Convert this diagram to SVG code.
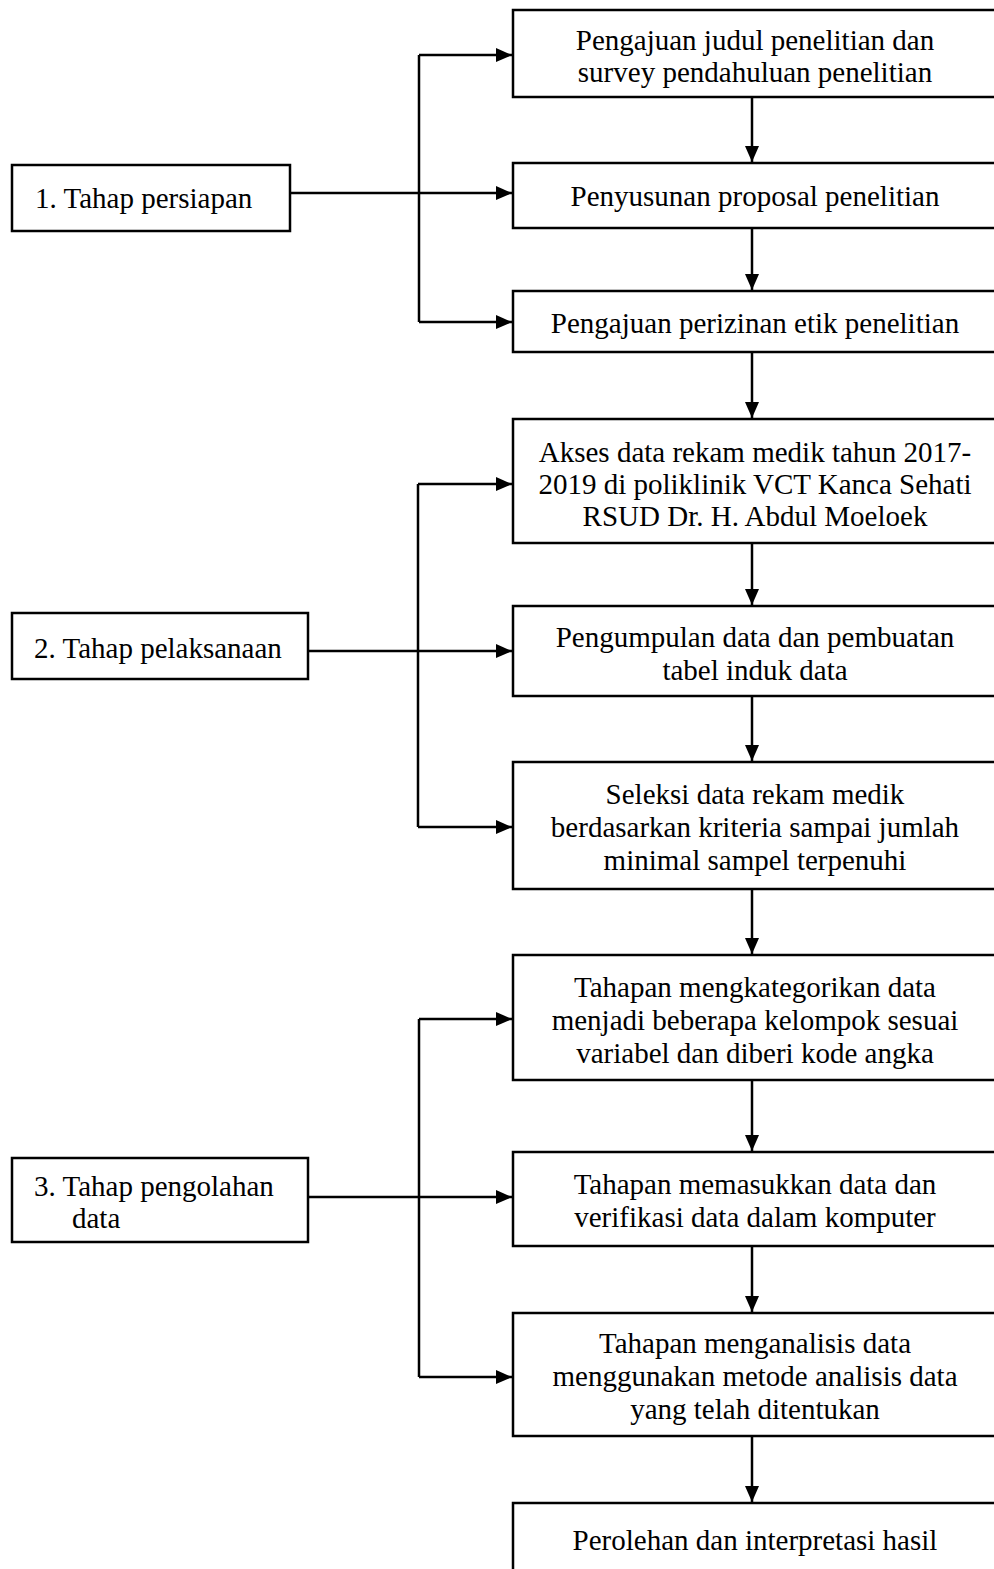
<svg xmlns="http://www.w3.org/2000/svg" width="994" height="1569" viewBox="0 0 994 1569">
<style>
.box{fill:#fff;stroke:#000;stroke-width:2.5}
.t{font-family:"Liberation Serif","Times New Roman",serif;font-size:29px;fill:#000}
.c{text-anchor:middle}
.ln{fill:none;stroke:#000;stroke-width:2.5}
</style>
<defs>
<marker id="ah" markerUnits="userSpaceOnUse" markerWidth="16" markerHeight="14" refX="16" refY="7" orient="auto">
<path d="M0,0 L16,7 L0,14 Z" fill="#000"/>
</marker>
</defs>
<rect width="994" height="1569" fill="#fff"/>
<g id="connectors">
<path class="ln" d="M419,55 V322"/>
<path class="ln" d="M291,193 H512" marker-end="url(#ah)"/>
<path class="ln" d="M419,55 H512" marker-end="url(#ah)"/>
<path class="ln" d="M419,322 H512" marker-end="url(#ah)"/>
<path class="ln" d="M418,484 V827"/>
<path class="ln" d="M308,651 H512" marker-end="url(#ah)"/>
<path class="ln" d="M418,484 H512" marker-end="url(#ah)"/>
<path class="ln" d="M418,827 H512" marker-end="url(#ah)"/>
<path class="ln" d="M419,1019 V1377"/>
<path class="ln" d="M308,1197 H512" marker-end="url(#ah)"/>
<path class="ln" d="M419,1019 H512" marker-end="url(#ah)"/>
<path class="ln" d="M419,1377 H512" marker-end="url(#ah)"/>
<path class="ln" d="M752,97 V162" marker-end="url(#ah)"/>
<path class="ln" d="M752,228 V290" marker-end="url(#ah)"/>
<path class="ln" d="M752,352 V418" marker-end="url(#ah)"/>
<path class="ln" d="M752,543 V605" marker-end="url(#ah)"/>
<path class="ln" d="M752,696 V761" marker-end="url(#ah)"/>
<path class="ln" d="M752,889 V954" marker-end="url(#ah)"/>
<path class="ln" d="M752,1080 V1151" marker-end="url(#ah)"/>
<path class="ln" d="M752,1246 V1312" marker-end="url(#ah)"/>
<path class="ln" d="M752,1436 V1502" marker-end="url(#ah)"/>
</g>
<g id="n1"><rect class="box" x="513" y="10" width="500" height="87"/><text class="t c" x="755" y="50">Pengajuan judul penelitian dan</text><text class="t c" x="755" y="82">survey pendahuluan penelitian</text></g>
<g id="n2"><rect class="box" x="513" y="163" width="500" height="65"/><text class="t c" x="755" y="206">Penyusunan proposal penelitian</text></g>
<g id="n3"><rect class="box" x="513" y="291" width="500" height="61"/><text class="t c" x="755" y="333">Pengajuan perizinan etik penelitian</text></g>
<g id="n4"><rect class="box" x="513" y="419" width="500" height="124"/><text class="t c" x="755" y="462">Akses data rekam medik tahun 2017-</text><text class="t c" x="755" y="494">2019 di poliklinik VCT Kanca Sehati</text><text class="t c" x="755" y="526">RSUD Dr. H. Abdul Moeloek</text></g>
<g id="n5"><rect class="box" x="513" y="606" width="500" height="90"/><text class="t c" x="755" y="647">Pengumpulan data dan pembuatan</text><text class="t c" x="755" y="680">tabel induk data</text></g>
<g id="n6"><rect class="box" x="513" y="762" width="500" height="127"/><text class="t c" x="755" y="804">Seleksi data rekam medik</text><text class="t c" x="755" y="837">berdasarkan kriteria sampai jumlah</text><text class="t c" x="755" y="870">minimal sampel terpenuhi</text></g>
<g id="n7"><rect class="box" x="513" y="955" width="500" height="125"/><text class="t c" x="755" y="997">Tahapan mengkategorikan data</text><text class="t c" x="755" y="1030">menjadi beberapa kelompok sesuai</text><text class="t c" x="755" y="1063">variabel dan diberi kode angka</text></g>
<g id="n8"><rect class="box" x="513" y="1152" width="500" height="94"/><text class="t c" x="755" y="1194">Tahapan memasukkan data dan</text><text class="t c" x="755" y="1227">verifikasi data dalam komputer</text></g>
<g id="n9"><rect class="box" x="513" y="1313" width="500" height="123"/><text class="t c" x="755" y="1353">Tahapan menganalisis data</text><text class="t c" x="755" y="1386">menggunakan metode analisis data</text><text class="t c" x="755" y="1419">yang telah ditentukan</text></g>
<g id="n10"><rect class="box" x="513" y="1503" width="500" height="100"/><text class="t c" x="755" y="1550">Perolehan dan interpretasi hasil</text></g>
<g id="s1"><rect class="box" x="12" y="165" width="278" height="66"/><text class="t" x="35" y="208">1. Tahap persiapan</text></g>
<g id="s2"><rect class="box" x="12" y="613" width="296" height="66"/><text class="t" x="34" y="658">2. Tahap pelaksanaan</text></g>
<g id="s3"><rect class="box" x="12" y="1158" width="296" height="84"/><text class="t" x="34" y="1196">3. Tahap pengolahan</text><text class="t" x="72" y="1228">data</text></g>
</svg>
